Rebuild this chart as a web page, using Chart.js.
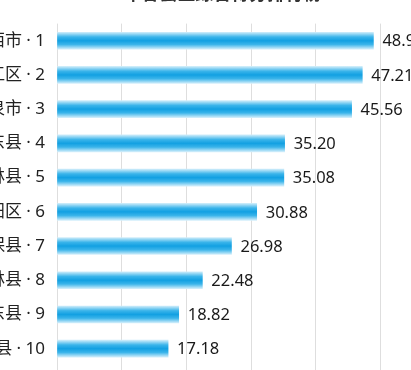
<!DOCTYPE html>
<html lang="zh">
<head>
    <meta charset="UTF-8">
    <title>综合得分排行</title>
    <script src="https://cdn.jsdelivr.net/npm/chart.js"></script>
    <style>
        body {
            margin: 0;
            padding: 0;
            background: #fff;
            overflow: hidden;
            width: 411px;
            height: 370px;
            position: relative;
        }
        /* le graphique est plus grand que la fenêtre : bords coupés comme sur l'original */
        .wrap {
            position: absolute;
            left: -43px;
            top: -28px;
        }
    </style>
</head>
<body>
    <div class="wrap">
        <canvas id="rankChart" width="498" height="416"></canvas>
    </div>

    <script>
        const titleText = "2023年各县区综合得分排行榜";
        const regions = ["山西市", "松江区", "酒泉市", "安东县", "桂林县", "朝阳区", "永保县", "长林县", "海东县", "武山县"];
        const scores = [48.93, 47.21, 45.56, 35.20, 35.08, 30.88, 26.98, 22.48, 18.82, 17.18];
        const xTicks = [0, 10, 20, 30, 40, 50, 60];

        const labels = regions.map((name, i) => name + " · " + (i + 1));
        const barSize = 17;

        function barGradient(context) {
            const chart = context.chart;
            const yScale = chart.scales.y;
            if (!chart.chartArea || !yScale) return "#17a3e3";
            const yc = yScale.getPixelForValue(context.dataIndex);
            const g = chart.ctx.createLinearGradient(0, yc - barSize / 2, 0, yc + barSize / 2);
            g.addColorStop(0, "rgba(205,236,250,1)");
            g.addColorStop(0.28, "#3ab4ea");
            g.addColorStop(0.5, "#12a0e2");
            g.addColorStop(0.72, "#3ab4ea");
            g.addColorStop(1, "rgba(210,238,251,1)");
            return g;
        }

        const valueLabels = {
            id: "valueLabels",
            afterDatasetsDraw(chart) {
                const ctx = chart.ctx;
                const meta = chart.getDatasetMeta(0);
                ctx.save();
                ctx.font = "16.5px 'Noto Sans', 'Noto Sans CJK SC', sans-serif";
                ctx.fillStyle = "#1a1a1a";
                ctx.textAlign = "left";
                ctx.textBaseline = "middle";
                meta.data.forEach((bar, i) => {
                    ctx.fillText(scores[i].toFixed(2), bar.x + 9, bar.y + 1);
                });
                ctx.restore();
            }
        };

        new Chart(document.getElementById("rankChart"), {
            type: "bar",
            data: {
                labels: labels,
                datasets: [{
                    data: scores,
                    backgroundColor: barGradient,
                    borderWidth: 0,
                    barThickness: barSize
                }]
            },
            options: {
                indexAxis: "y",
                responsive: false,
                animation: false,
                layout: { padding: { left: 0, right: 10, top: 0, bottom: 0 } },
                plugins: {
                    legend: { display: false },
                    tooltip: { enabled: false },
                    title: {
                        display: true,
                        text: titleText,
                        color: "#333",
                        font: { size: 18, weight: "bold", family: "'Noto Sans CJK SC', sans-serif" },
                        padding: { top: 10, bottom: 20 }
                    }
                },
                scales: {
                    x: {
                        min: xTicks[0],
                        max: xTicks[xTicks.length - 1],
                        afterBuildTicks(scale) {
                            scale.ticks = xTicks.map(v => ({ value: v }));
                        },
                        ticks: { display: false },
                        grid: { color: "#dedede", drawTicks: true, tickLength: 10 },
                        border: { display: false }
                    },
                    y: {
                        afterFit(scale) { scale.width = 100; },
                        ticks: {
                            color: "#222",
                            padding: 12,
                            font: { size: 17, family: "'Noto Sans', 'Noto Sans CJK SC', sans-serif" }
                        },
                        grid: { display: false, drawTicks: false },
                        border: { display: false }
                    }
                }
            },
            plugins: [valueLabels]
        });
    </script>
</body>
</html>
